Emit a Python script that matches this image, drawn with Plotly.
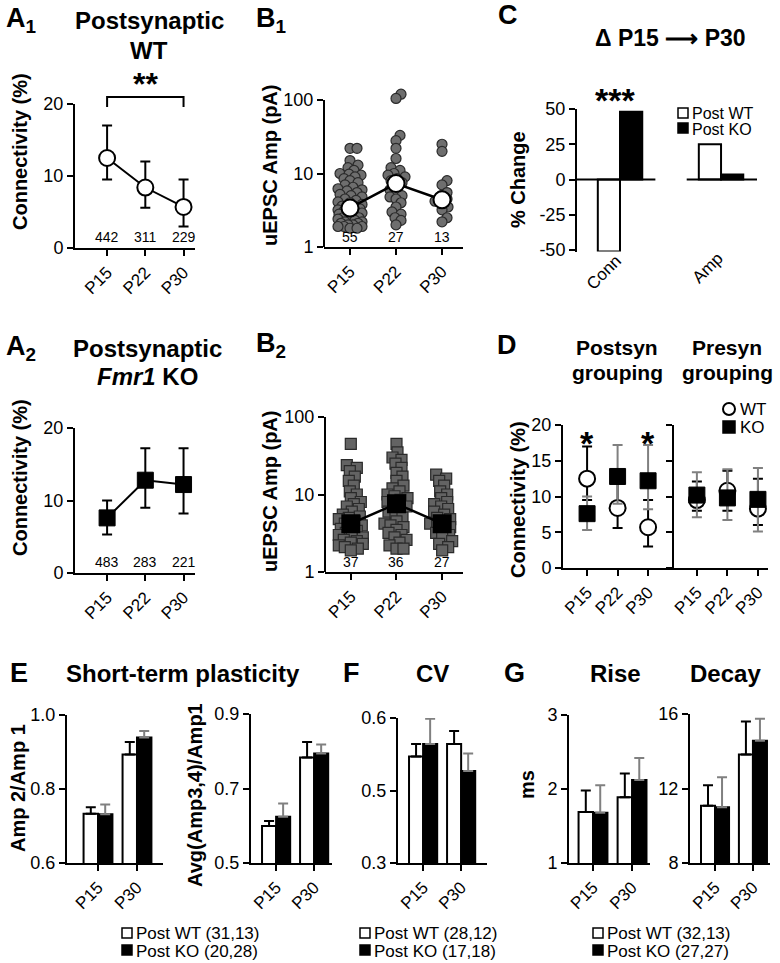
import math
import plotly.graph_objects as go

PAGE_W, PAGE_H = 780, 963
OFF = 0  # body margin is removed in the page, so the figure fills the window
W, H = PAGE_W - 2 * OFF, PAGE_H - 2 * OFF
FONT = "Liberation Sans, Arial, Helvetica, sans-serif"
TICK = 18

# ---------------- data ----------------
AGES = ["P15", "P22", "P30"]
AGES2 = ["P15", "P30"]

# Connectivity (%) - postsynaptic grouping
WT_CONN = [12.5, 8.4, 5.7]
WT_CONN_LO = [9.5, 5.6, 3.0]
WT_CONN_HI = [17.0, 12.0, 9.5]
WT_N = ["442", "311", "229"]
KO_CONN = [7.6, 12.8, 12.2]
KO_CONN_LO = [5.3, 9.0, 8.2]
KO_CONN_HI = [10.0, 17.2, 17.2]
KO_N = ["483", "283", "221"]

# Connectivity (%) - presynaptic grouping
PRE_WT = [9.5, 10.8, 8.3]
PRE_WT_LO = [8.0, 8.0, 6.0]
PRE_WT_HI = [12.1, 13.6, 12.5]
PRE_KO = [10.2, 9.8, 9.6]
PRE_KO_LO = [7.1, 6.7, 5.1]
PRE_KO_HI = [13.4, 13.8, 14.0]

# uEPSC amplitudes (pA), WT
B1_P15 = [22, 22, 15, 13, 12, 11, 10, 9.8, 9.5, 9, 8.5, 8, 7.5, 7, 6.5, 6.2, 6, 5.8, 5.5, 5.2,
          5, 4.8, 4.5, 4.3, 4.1, 4, 3.8, 3.6, 3.5, 3.4, 3.3, 3.2, 3.1, 3.0, 3.0, 2.9, 2.8, 2.7,
          2.6, 2.5, 2.5, 2.4, 2.3, 2.3, 2.2, 2.2, 2.1, 2.1, 2.0, 2.0, 1.9, 1.9, 1.9, 1.8, 1.8]
B1_P22 = [120, 105, 33, 28, 22, 16, 12, 11, 10, 9.5, 9, 8.5, 8, 7.5, 7, 6, 5.5, 5, 4.8, 4.5,
          4, 3.5, 3, 2.8, 2.5, 2.3, 2.0]
B1_P30 = [25, 20, 8, 7, 5.5, 5, 4.5, 4.2, 4, 3.5, 3.2, 2.5, 2.2]
B1_MEAN = [3.4, 7.3, 4.4]
B1_N = ["55", "27", "13"]

# uEPSC amplitudes (pA), KO
B2_P15 = [45, 24, 22, 20, 17, 15, 13, 11, 10, 9, 8, 7.5, 7, 6.5, 6, 5.5, 5.2, 5, 4.8, 4.5,
          4.2, 4, 3.8, 3.6, 3.4, 3.2, 3, 2.9, 2.8, 2.6, 2.5, 2.4, 2.3, 2.2, 2.1, 2.0, 1.9]
B2_P22 = [45, 35, 30, 28, 25, 22, 19, 17, 15, 13, 12, 11, 10, 9.5, 9, 8.5, 8, 7.5, 7, 6.5,
          6, 5.5, 5, 4.5, 4.2, 4, 3.8, 3.5, 3.2, 3.0, 2.8, 2.6, 2.4, 2.2, 2.0, 2.0]
B2_P30 = [18, 16, 15, 13, 11, 10, 9, 8, 7.5, 7, 6.5, 6, 5.5, 5, 4.8, 4.5, 4.2, 4, 3.8, 3.5,
          3.2, 3, 2.8, 2.5, 2.3, 2.1, 1.9]
B2_MEAN = [4.2, 7.6, 4.2]
B2_N = ["37", "36", "27"]

# % change P15 -> P30
C_CATS = ["Conn", "Amp"]
C_WT = [-51, 25]
C_KO = [48, 3.5]

# Short-term plasticity
E1_WT = [0.733, 0.893]
E1_WT_TOP = [0.751, 0.927]
E1_KO = [0.732, 0.939]
E1_KO_TOP = [0.758, 0.957]
E2_WT = [0.599, 0.783]
E2_WT_TOP = [0.613, 0.825]
E2_KO = [0.624, 0.794]
E2_KO_TOP = [0.660, 0.818]

# CV
F_WT = [0.547, 0.564]
F_WT_TOP = [0.564, 0.582]
F_KO = [0.564, 0.527]
F_KO_TOP = [0.599, 0.551]
F_TICKVALS = [0.4, 0.5, 0.6]
F_TICKTEXT = ["0.3", "0.5", "0.6"]

# Kinetics (ms)
RISE_WT = [1.69, 1.89]
RISE_WT_TOP = [1.98, 2.21]
RISE_KO = [1.68, 2.12]
RISE_KO_TOP = [2.05, 2.42]
DECAY_WT = [11.08, 13.83]
DECAY_WT_TOP = [12.17, 15.6]
DECAY_KO = [11.0, 14.57]
DECAY_KO_TOP = [12.6, 15.75]

LEG_E = ["Post WT (31,13)", "Post KO (20,28)"]
LEG_F = ["Post WT (28,12)", "Post KO (17,18)"]
LEG_G = ["Post WT (32,13)", "Post KO (27,27)"]

GREY_ERR = "#808080"

# ---------------- helpers ----------------
fig = go.Figure()
layout = dict(width=W, height=H, margin=dict(l=0, r=0, t=0, b=0, pad=0, autoexpand=False),
              paper_bgcolor="white", plot_bgcolor="rgba(0,0,0,0)", showlegend=False,
              font=dict(family=FONT, color="black"))
annots = []
shapes = []


def fx(px):
    return (px - OFF) / W


def fy(py):
    return 1 - (py - OFF) / H


def names(i):
    return ("xaxis" if i == 1 else f"xaxis{i}"), ("yaxis" if i == 1 else f"yaxis{i}")


def refs(i):
    return ("x" if i == 1 else f"x{i}"), ("y" if i == 1 else f"y{i}")


AX = dict(showline=True, linewidth=2, linecolor="black", ticks="outside", tickwidth=2,
          ticklen=6, tickcolor="black", showgrid=False, zeroline=False, fixedrange=True,
          automargin=False, tickfont=dict(family=FONT, size=TICK, color="black"))


def axes(i, x0, x1, ytop, ybot, xrange, yrange, xtext, ytickvals, yticktext=None,
         ytype="linear", ylabels=True, xline=True, yline=True):
    xn, yn = names(i)
    xr, yr = refs(i)
    layout[xn] = dict(AX, domain=[fx(x0), fx(x1)], range=xrange, anchor=yr, tickmode="array",
                      tickvals=list(range(len(xtext))), ticktext=xtext, tickangle=-45,
                      tickfont=dict(family=FONT, size=17, color="black"))
    if not xline:
        layout[xn].update(showline=False, ticks="", showticklabels=False)
    layout[yn] = dict(AX, domain=[fy(ybot), fy(ytop)], range=yrange, anchor=xr,
                      type=ytype, tickmode="array", tickvals=ytickvals,
                      ticktext=yticktext if yticktext else [str(v) for v in ytickvals],
                      showticklabels=ylabels, showline=yline)


def A(x, y, text, size, bold=False, xanchor="center", yanchor="middle", angle=0):
    t = f"<b>{text}</b>" if bold else text
    annots.append(dict(x=fx(x), y=fy(y), xref="paper", yref="paper", text=t, showarrow=False,
                       font=dict(family=FONT, size=size, color="black"), xanchor=xanchor,
                       yanchor=yanchor, textangle=angle))


def box(x, y, s, fill):
    shapes.append(dict(type="rect", xref="paper", yref="paper", x0=fx(x), x1=fx(x + s),
                       y0=fy(y + s / 2), y1=fy(y - s / 2),
                       fillcolor=fill, line=dict(color="black", width=1.5)))


def swarm(vals, px_unit, px_decade, dmin, maxoff):
    order = sorted(range(len(vals)), key=lambda k: vals[k])
    placed = []
    offs = [0.0] * len(vals)
    cands = [0]
    for s in range(1, int(maxoff) + 1):
        cands += [s, -s]
    for k in order:
        yy = math.log10(vals[k]) * px_decade
        best, bestd = 0, -1
        for c in cands:
            d = min([math.hypot(c - px, yy - py) for px, py in placed] or [1e9])
            if d >= dmin:
                best = c
                break
            if d > bestd:
                best, bestd = c, d
        placed.append((best, yy))
        offs[k] = best / px_unit
    return offs


def errs(vals, lo, hi, color):
    return dict(type="data", symmetric=False, array=[h - v for v, h in zip(vals, hi)],
                arrayminus=[v - l for v, l in zip(vals, lo)], color=color, thickness=2, width=5)


def bar_pair(i, wt, wt_top, ko, ko_top, w):
    xr, yr = refs(i)
    xs = list(range(len(wt)))
    fig.add_trace(go.Bar(x=xs, y=wt, width=w, offset=-w, xaxis=xr, yaxis=yr,
                         marker=dict(color="white", line=dict(color="black", width=2)),
                         error_y=dict(type="data", symmetric=False,
                                      array=[t - v for v, t in zip(wt, wt_top)],
                                      arrayminus=[0] * len(wt), color="black", thickness=2, width=5)))
    fig.add_trace(go.Bar(x=xs, y=ko, width=w, offset=0, xaxis=xr, yaxis=yr,
                         marker=dict(color="black", line=dict(color="black", width=2)),
                         error_y=dict(type="data", symmetric=False,
                                      array=[t - v for v, t in zip(ko, ko_top)],
                                      arrayminus=[0] * len(ko), color=GREY_ERR, thickness=2, width=5)))


X3 = list(range(len(AGES)))

# ---------------- A1 ----------------
axes(1, 75, 195, 104, 248, [-0.84, 2.3], [0, 20], AGES, [0, 10, 20])
fig.add_trace(go.Scatter(x=X3, y=WT_CONN, mode="lines+markers", xaxis="x", yaxis="y",
                         line=dict(color="black", width=2), cliponaxis=False,
                         marker=dict(symbol="circle", size=16, color="white",
                                     line=dict(color="black", width=2)),
                         error_y=errs(WT_CONN, WT_CONN_LO, WT_CONN_HI, "black")))
for k, t in enumerate(WT_N):
    annots.append(dict(x=k, y=0, xref="x", yref="y", text=t, showarrow=False, yanchor="bottom",
                       yshift=1, font=dict(family=FONT, size=14, color="black")))
shapes.append(dict(type="path", xref="x", yref="paper",
                   path=f"M 0,{fy(107)} L 0,{fy(97)} L 2,{fy(97)} L 2,{fy(107)}",
                   line=dict(color="black", width=2)))
A(145, 84, "**", 32, bold=True)
A(4, 20, "A<sub>1</sub>", 27, bold=True, xanchor="left")
A(149, 20, "Postsynaptic", 24, bold=True)
A(149, 50, "WT", 24, bold=True)
A(20, 152, "Connectivity (%)", 20, bold=True, angle=-90)

# ---------------- A2 ----------------
axes(4, 75, 195, 428, 573, [-0.84, 2.3], [0, 20], AGES, [0, 10, 20])
fig.add_trace(go.Scatter(x=X3, y=KO_CONN, mode="lines+markers", xaxis="x4", yaxis="y4",
                         line=dict(color="black", width=2), cliponaxis=False,
                         marker=dict(symbol="square", size=16, color="black",
                                     line=dict(color="black", width=1)),
                         error_y=errs(KO_CONN, KO_CONN_LO, KO_CONN_HI, "black")))
for k, t in enumerate(KO_N):
    annots.append(dict(x=k, y=0, xref="x4", yref="y4", text=t, showarrow=False, yanchor="bottom",
                       yshift=1, font=dict(family=FONT, size=14, color="black")))
A(4, 348, "A<sub>2</sub>", 27, bold=True, xanchor="left")
A(147, 348, "Postsynaptic", 24, bold=True)
A(147, 376, "<i>Fmr1</i> KO", 24, bold=True)
A(20, 478, "Connectivity (%)", 20, bold=True, angle=-90)


# ---------------- B1 / B2 ----------------
def bpanel(i, groups, means, ns, symbol, fill, dot_size, mean_fill, x0, x1, y100, y1):
    dec = (y1 - y100) / 2.0
    top = 2.12
    ytop = y1 - top * dec
    axes(i, x0, x1, ytop, y1, [-0.565, 2.456], [0, top], AGES, [1, 10, 100], ytype="log",
         yline=False)
    xr, yr = refs(i)
    shapes.append(dict(type="line", xref=f"{xr} domain", yref=f"{yr} domain", x0=0, x1=0,
                       y0=0, y1=2.0 / top, line=dict(color="black", width=2)))
    px_unit = (x1 - x0) / (2.456 + 0.565)
    for k, g in enumerate(groups):
        offs = swarm(g, px_unit, dec, dot_size * 0.62, 12)
        fig.add_trace(go.Scatter(x=[k + o for o in offs], y=g, mode="markers", xaxis=xr, yaxis=yr,
                                 cliponaxis=False,
                                 marker=dict(symbol=symbol, size=dot_size, color=fill,
                                             line=dict(color="#2a2a2a", width=1.2))))
    fig.add_trace(go.Scatter(x=X3, y=means, mode="lines+markers", xaxis=xr, yaxis=yr,
                             line=dict(color="black", width=2.5), cliponaxis=False,
                             marker=dict(symbol=symbol, size=17, color=mean_fill,
                                         line=dict(color="black", width=2))))
    for k, t in enumerate(ns):
        annots.append(dict(x=k, y=0, xref=xr, yref=yr, text=t, showarrow=False, yanchor="bottom",
                           yshift=0, font=dict(family=FONT, size=14, color="black")))


bpanel(2, [B1_P15, B1_P22, B1_P30], B1_MEAN, B1_N, "circle", "#6e6e6e", 10, "white",
       324, 463, 100, 247)
bpanel(5, [B2_P15, B2_P22, B2_P30], B2_MEAN, B2_N, "square", "#636363", 11, "black",
       325, 463, 417, 572)
A(254, 20, "B<sub>1</sub>", 27, bold=True, xanchor="left")
A(254, 345, "B<sub>2</sub>", 27, bold=True, xanchor="left")
A(270, 166, "uEPSC Amp (pA)", 20, bold=True, angle=-90)
A(270, 492, "uEPSC Amp (pA)", 20, bold=True, angle=-90)

# ---------------- C ----------------
axes(3, 577, 757, 109, 251.5, [-0.426, 1.356], [-51, 50], C_CATS, [-50, -25, 0, 25, 50],
     xline=False)
fig.add_trace(go.Bar(x=[0, 1], y=C_WT, width=0.22, offset=-0.22, xaxis="x3", yaxis="y3",
                     marker=dict(color="white", line=dict(color="black", width=2))))
fig.add_trace(go.Bar(x=[0, 1], y=C_KO, width=0.22, offset=0, xaxis="x3", yaxis="y3",
                     marker=dict(color="black", line=dict(color="black", width=2))))
shapes.append(dict(type="line", xref="x3", yref="y3", x0=-0.426, x1=0.35, y0=0, y1=0,
                   line=dict(color="black", width=2)))
shapes.append(dict(type="line", xref="x3", yref="y3", x0=0.66, x1=1.356, y0=0, y1=0,
                   line=dict(color="black", width=2)))
# rotated category labels
A(604, 273, C_CATS[0], 17, angle=-45)
A(707, 268, C_CATS[1], 17, angle=-45)
A(615, 100, "***", 34, bold=True)
A(496, 15, "C", 27, bold=True, xanchor="left")
A(670, 38, "Δ P15 ⟶ P30", 23, bold=True)
A(518, 180, "% Change", 20, bold=True, angle=-90)
box(678, 113, 10, "white")
box(678, 128, 10, "black")
A(690, 113, "Post WT", 16, xanchor="left")
A(690, 129, "Post KO", 16, xanchor="left")

# ---------------- D ----------------
axes(6, 563, 674, 425, 568, [-0.79, 2.85], [0, 20], AGES, [0, 5, 10, 15, 20])
axes(7, 674, 768, 425, 568, [-0.75, 2.33], [0, 20], AGES, [0, 5, 10, 15, 20], ylabels=False)
for i, wt, wlo, whi, ko, klo, khi in [(6, WT_CONN, WT_CONN_LO, WT_CONN_HI, KO_CONN, KO_CONN_LO, KO_CONN_HI),
                                       (7, PRE_WT, PRE_WT_LO, PRE_WT_HI, PRE_KO, PRE_KO_LO, PRE_KO_HI)]:
    xr, yr = refs(i)
    fig.add_trace(go.Scatter(x=X3, y=wt, mode="markers", xaxis=xr, yaxis=yr, cliponaxis=False,
                             marker=dict(symbol="circle", size=16, color="white",
                                         line=dict(color="black", width=2)),
                             error_y=errs(wt, wlo, whi, "black")))
    fig.add_trace(go.Scatter(x=X3, y=ko, mode="markers", xaxis=xr, yaxis=yr, cliponaxis=False,
                             marker=dict(symbol="square", size=16, color="black",
                                         line=dict(color="black", width=1)),
                             error_y=errs(ko, klo, khi, GREY_ERR)))
A(587, 443, "*", 34, bold=True)
A(648, 443, "*", 34, bold=True)
A(495, 345, "D", 27, bold=True, xanchor="left")
A(617, 347, "Postsyn", 21, bold=True)
A(617, 372, "grouping", 21, bold=True)
A(727, 347, "Presyn", 21, bold=True)
A(727, 372, "grouping", 21, bold=True)
A(518, 500, "Connectivity (%)", 20, bold=True, angle=-90)
shapes.append(dict(type="circle", xref="paper", yref="paper", x0=fx(723), x1=fx(735),
                   y0=fy(415), y1=fy(403), fillcolor="white", line=dict(color="black", width=2)))
box(723, 427, 12, "black")
A(738, 409, "WT", 17, xanchor="left")
A(738, 427, "KO", 17, xanchor="left")

# ---------------- E ----------------
axes(8, 67, 163, 715, 863, [-0.795, 1.667], [0.6, 1.0], AGES2, [0.6, 0.8, 1.0], ["0.6", "0.8", "1.0"])
bar_pair(8, E1_WT, E1_WT_TOP, E1_KO, E1_KO_TOP, 0.37)
axes(9, 251, 332, 714, 863, [-0.66, 1.47], [0.5, 0.9], AGES2, [0.5, 0.7, 0.9], ["0.5", "0.7", "0.9"])
bar_pair(9, E2_WT, E2_WT_TOP, E2_KO, E2_KO_TOP, 0.37)
A(8, 673, "E", 27, bold=True, xanchor="left")
A(183, 673, "Short-term plasticity", 24, bold=True)
A(18, 788, "Amp 2/Amp 1", 20, bold=True, angle=-90)
A(195, 795, "Avg(Amp3,4)/Amp1", 20, bold=True, angle=-90)
box(122, 933, 10, "white")
box(122, 950, 10, "black")
A(134, 933, LEG_E[0], 17, xanchor="left")
A(134, 951, LEG_E[1], 17, xanchor="left")

# ---------------- F ----------------
axes(10, 398, 487, 718, 863, [-0.66, 1.68], [0.4, 0.6], AGES2, F_TICKVALS, F_TICKTEXT)
bar_pair(10, F_WT, F_WT_TOP, F_KO, F_KO_TOP, 0.37)
A(341, 673, "F", 27, bold=True, xanchor="left")
A(432, 673, "CV", 24, bold=True)
box(360, 933, 10, "white")
box(360, 950, 10, "black")
A(372, 933, LEG_F[0], 17, xanchor="left")
A(372, 951, LEG_F[1], 17, xanchor="left")

# ---------------- G ----------------
axes(11, 569, 650, 715, 863, [-0.615, 1.46], [1, 3], AGES2, [1, 2, 3])
bar_pair(11, RISE_WT, RISE_WT_TOP, RISE_KO, RISE_KO_TOP, 0.37)
axes(12, 690, 770, 714, 863, [-0.66, 1.45], [8, 16], AGES2, [8, 12, 16])
bar_pair(12, DECAY_WT, DECAY_WT_TOP, DECAY_KO, DECAY_KO_TOP, 0.37)
A(502, 673, "G", 27, bold=True, xanchor="left")
A(615, 673, "Rise", 24, bold=True)
A(725, 673, "Decay", 24, bold=True)
A(527, 785, "ms", 20, bold=True, angle=-90)
box(593, 933, 10, "white")
box(593, 950, 10, "black")
A(605, 933, LEG_G[0], 17, xanchor="left")
A(605, 951, LEG_G[1], 17, xanchor="left")

layout["annotations"] = annots
layout["shapes"] = shapes
layout["bargap"] = 0
fig.update_layout(**layout)
fig.write_html("out.html", config={"displayModeBar": False, "staticPlot": True},
               post_script="document.body.style.margin='0px';document.body.style.overflow='hidden';")
